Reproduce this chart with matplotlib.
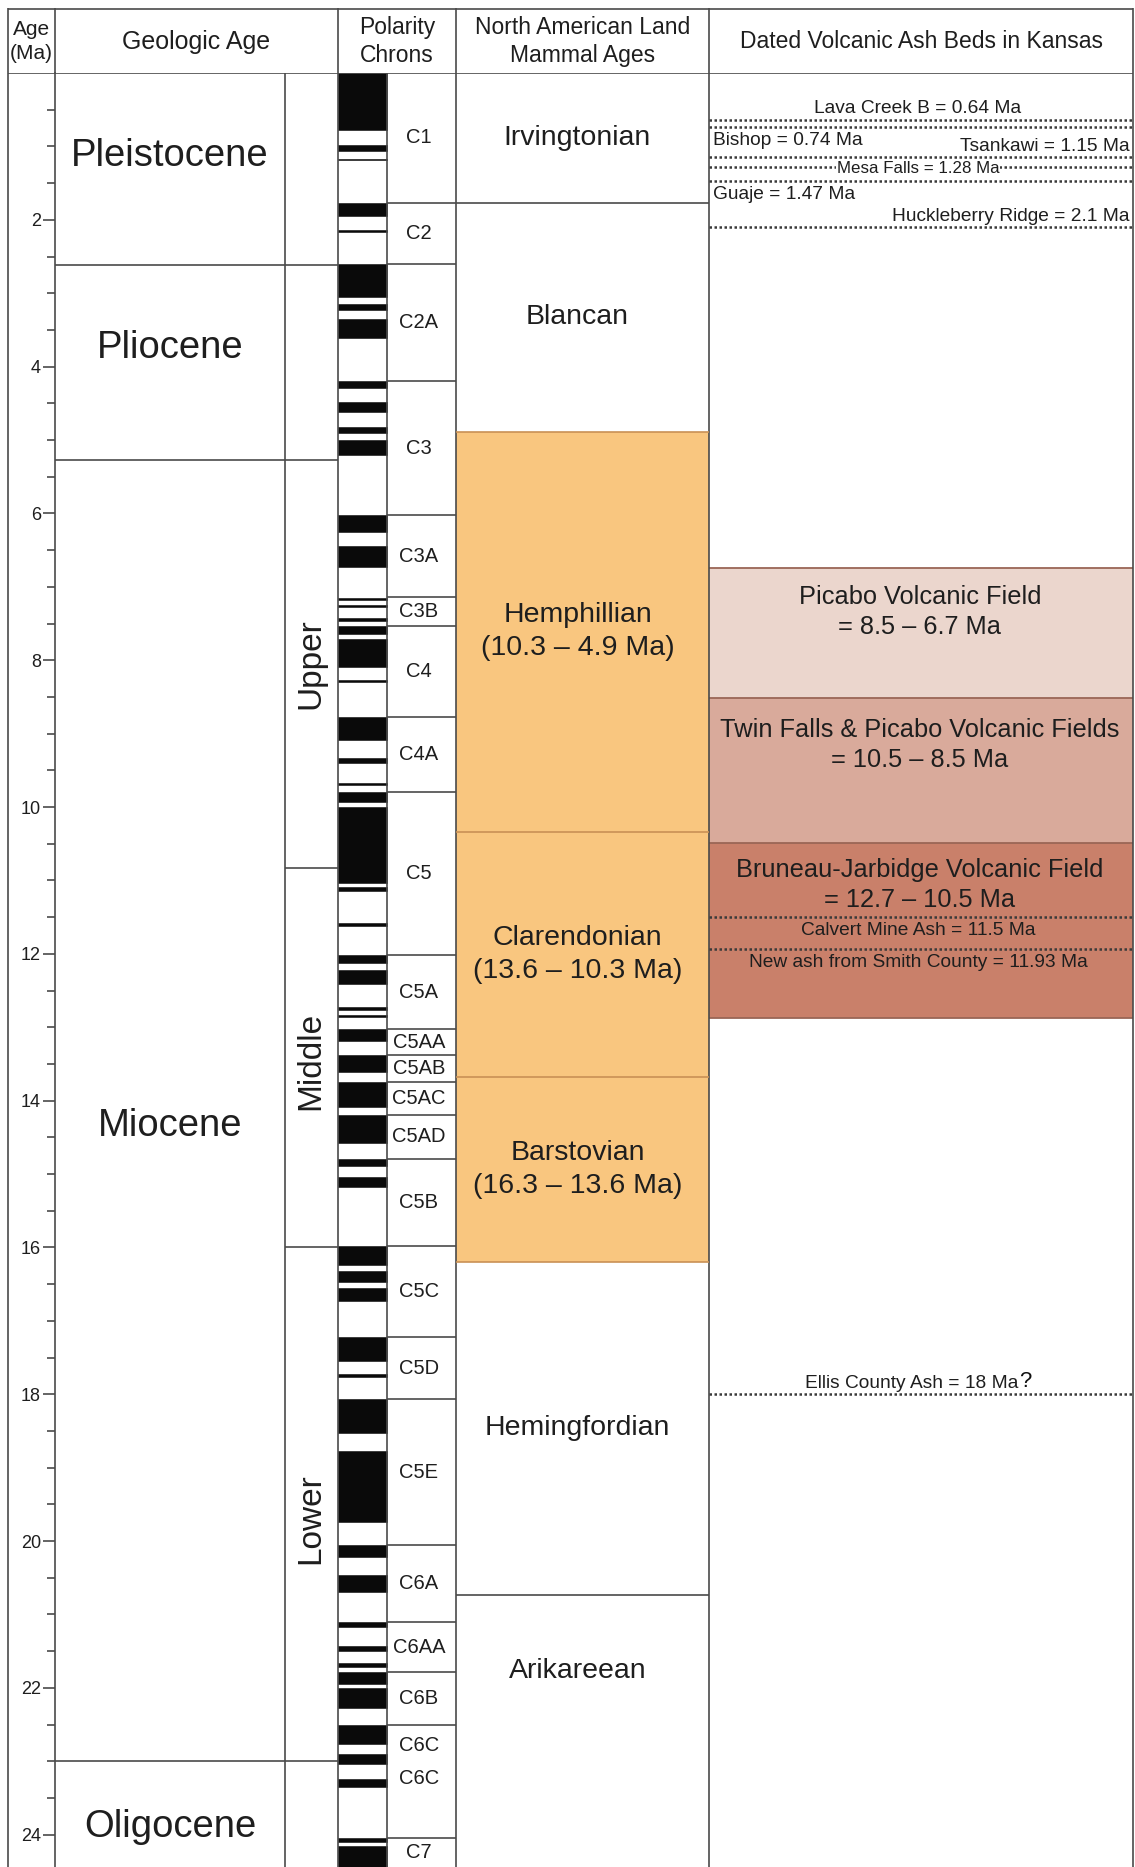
import matplotlib.pyplot as plt
import numpy as np

plt.rcParams['font.family'] = ['Liberation Sans', 'DejaVu Sans']

# ages in Ma
epochs = ["Pleistocene", "Pliocene", "Miocene", "Oligocene"]
epoch_bounds = [0.0, 2.61, 5.27, 23.0, 24.44]

subepochs = ["Upper", "Middle", "Lower"]
subepoch_bounds = [5.27, 10.83, 16.0, 23.0]

chrons = ["C1", "C2", "C2A", "C3", "C3A", "C3B", "C4", "C4A", "C5", "C5A",
          "C5AA", "C5AB", "C5AC", "C5AD", "C5B", "C5C", "C5D", "C5E", "C6A",
          "C6AA", "C6B", "C6C", "C7"]
chron_bounds = [0.0, 1.77, 2.6, 4.2, 6.02, 7.14, 7.53, 8.77, 9.79, 12.02,
                13.03, 13.38, 13.74, 14.2, 14.79, 15.98, 17.22, 18.07, 20.05,
                21.1, 21.79, 22.51, 24.05, 24.44]

# normal polarity intervals (black in the bar)
normal_top = [0.0, 0.98, 1.17, 1.77, 2.14, 2.6, 3.15, 3.35, 4.2, 4.48, 4.82, 5.0,
              6.02, 6.44, 7.15, 7.25, 7.43, 7.54, 7.71, 8.27, 8.77, 9.33, 9.67,
              9.79, 10.0, 11.09, 11.58, 12.02, 12.22, 12.72, 12.83, 13.02, 13.38,
              13.75, 14.2, 14.8, 15.04, 15.98, 16.32, 16.55, 17.22, 17.72, 18.07,
              18.77, 20.05, 20.46, 21.1, 21.43, 21.66, 21.79, 22.0, 22.51, 22.9,
              23.24, 24.05, 24.15]
normal_base = [0.77, 1.06, 1.19, 1.95, 2.16, 3.05, 3.23, 3.61, 4.29, 4.62, 4.9, 5.2,
               6.25, 6.73, 7.18, 7.28, 7.46, 7.64, 8.09, 8.3, 9.09, 9.4, 9.7,
               9.93, 11.04, 11.14, 11.62, 12.12, 12.41, 12.77, 12.86, 13.19, 13.61,
               14.09, 14.58, 14.89, 15.17, 16.24, 16.47, 16.73, 17.55, 17.77, 18.53,
               19.74, 20.22, 20.7, 21.17, 21.5, 21.71, 21.95, 22.27, 22.76, 23.04,
               23.35, 24.1, 24.44]

nalma = ["Irvingtonian", "Blancan", "Hemphillian\n(10.3 \u2013 4.9 Ma)",
         "Clarendonian\n(13.6 \u2013 10.3 Ma)", "Barstovian\n(16.3 \u2013 13.6 Ma)",
         "Hemingfordian", "Arikareean"]
nalma_bounds = [0.0, 1.77, 4.89, 10.34, 13.68, 16.2, 20.73, 24.44]
nalma_dated = [False, False, True, True, True, False, False]

fields = ["Picabo Volcanic Field\n= 8.5 \u2013 6.7 Ma",
          "Twin Falls & Picabo Volcanic Fields\n= 10.5 \u2013 8.5 Ma",
          "Bruneau-Jarbidge Volcanic Field\n= 12.7 \u2013 10.5 Ma"]
field_top = [6.74, 8.51, 10.49]
field_base = [8.51, 10.49, 12.87]

ash_names = ["Lava Creek B = 0.64 Ma", "Bishop = 0.74 Ma", "Tsankawi = 1.15 Ma",
             "Mesa Falls = 1.28 Ma", "Guaje = 1.47 Ma", "Huckleberry Ridge = 2.1 Ma",
             "Calvert Mine Ash = 11.5 Ma", "New ash from Smith County = 11.93 Ma",
             "Ellis County Ash = 18 Ma?"]
ash_ages = [0.64, 0.74, 1.15, 1.28, 1.47, 2.1, 11.5, 11.93, 18.0]

# layout (pixel columns)
X_LEFT, X_AGE, X_SUB, X_BAR, X_BAR_R, X_NAL, X_ASH, X_RIGHT = 8, 55, 285, 338, 387, 456, 709, 1133
W, H = 1135, 1867
HEAD_TOP, HEAD_BOT = 8, 73

line_c = "#4a4a4a"
text_c = "#1e1e1e"
lw = 1.2

fig = plt.figure(figsize=(W / 100, H / 100), dpi=100)
ax = fig.add_axes([0, 0, 1, 1 - HEAD_BOT / H])
ax.set_xlim(0, W)
ax.set_ylim(epoch_bounds[-1], 0)
for s in ["top", "right", "bottom"]:
    ax.spines[s].set_visible(False)
ax.spines["left"].set_position(("data", X_AGE))
ax.spines["left"].set_color(line_c)
ax.spines["left"].set_linewidth(lw)
ax.set_xticks([])
ax.set_yticks(np.arange(2, 25, 2))
ax.set_yticks([v for v in np.arange(0.5, 24.5, 0.5) if v % 2 != 0], minor=True)
ax.set_yticklabels([str(v) for v in range(2, 25, 2)])
ax.tick_params(axis="y", which="major", length=9, width=lw, color=line_c,
               labelsize=13, pad=1, labelcolor=text_c)
ax.tick_params(axis="y", which="minor", length=6, width=lw, color=line_c)

# NALMA fills
for name, t, b, d in zip(nalma, nalma_bounds[:-1], nalma_bounds[1:], nalma_dated):
    if d:
        ax.bar((X_NAL + X_ASH) / 2, b - t, bottom=t, width=X_ASH - X_NAL,
               color="#f9c67f", edgecolor="none", zorder=1)

# volcanic fields
field_colors = ["#ebd6cd", "#d9aa9b", "#c9806a"]
for t, b, c in zip(field_top, field_base, field_colors):
    ax.bar((X_ASH + X_RIGHT) / 2, b - t, bottom=t, width=X_RIGHT - X_ASH,
           color=c, edgecolor="none", zorder=1)
ax.hlines(field_top + [field_base[-1]], X_ASH, X_RIGHT, color="#9a6656", lw=1.3, zorder=2)

# polarity bar
ax.bar((X_BAR + X_BAR_R) / 2, np.array(normal_base) - np.array(normal_top),
       bottom=normal_top, width=X_BAR_R - X_BAR, color="#0a0a0a",
       edgecolor="#0a0a0a", lw=0.4, zorder=2)

# grid lines
ax.vlines([X_LEFT, X_SUB, X_BAR, X_BAR_R, X_NAL, X_ASH, X_RIGHT], 0,
          epoch_bounds[-1], color=line_c, lw=lw, zorder=3)
ax.hlines(0, X_LEFT, X_RIGHT, color=line_c, lw=lw, zorder=3)
ax.hlines(epoch_bounds[1:-1], X_AGE, X_BAR, color=line_c, lw=lw, zorder=3)
ax.hlines(subepoch_bounds[1:-1], X_SUB, X_BAR, color=line_c, lw=lw, zorder=3)
ax.hlines(chron_bounds[1:-1], X_BAR_R, X_NAL, color=line_c, lw=lw, zorder=3)
nal_line_c = ["#c99155" if (nalma_dated[i] or nalma_dated[i - 1]) else line_c
              for i in range(1, len(nalma))]
ax.hlines(nalma_bounds[1:-1], X_NAL, X_ASH, colors=nal_line_c, lw=lw, zorder=3)

# labels: epochs
epoch_label_y = [1.13, 3.75, 14.35, 23.89]
for name, y in zip(epochs, epoch_label_y):
    ax.text((X_AGE + X_SUB) / 2, y, name, ha="center", va="center",
            fontsize=27.5, color=text_c)
sub_label_y = [8.04, 13.46, 19.69]
for name, y in zip(subepochs, sub_label_y):
    ax.text((X_SUB + X_BAR) / 2 - 1, y, name, ha="center", va="center",
            rotation=90, fontsize=24, color=text_c)

# chron labels
for name, t, b in zip(chrons, chron_bounds[:-1], chron_bounds[1:]):
    if name == "C6C":
        ys = [t + 0.28, t + 0.73]
    else:
        ys = [(t + b) / 2]
    for y in ys:
        ax.text((X_BAR_R + X_NAL) / 2 - 2.5, y, name, ha="center", va="center",
                fontsize=14.5, color=text_c)

# NALMA labels
for name, t, b in zip(nalma, nalma_bounds[:-1], nalma_bounds[1:]):
    y = 21.77 if name == "Arikareean" else (t + b) / 2
    ax.text((X_NAL + X_ASH) / 2 - 5, y, name, ha="center", va="center",
            fontsize=20.5, color=text_c, linespacing=1.35)

# field labels
field_label_dy = [0.23, 0.28, 0.2]
for name, t, dy in zip(fields, field_top, field_label_dy):
    ax.text((X_ASH + X_RIGHT) / 2 - 1, t + dy, name, ha="center", va="top",
            fontsize=18.3, color=text_c, linespacing=1.33)

# ash beds
ash_place = ["above-c", "below-l", "above-r", "on-c", "below-l", "above-r",
             "below-c", "below-c", "above-c"]
ax.hlines(ash_ages, X_ASH, X_RIGHT, color="#3a3a3a", lw=1.8,
          linestyles=(0, (1, 1)), zorder=4)
for name, a, p in zip(ash_names, ash_ages, ash_place):
    side, al = p.split("-")
    dy = {"above": -0.09, "below": 0.245, "on": 0.0}[side]
    x = {"c": (X_ASH + X_RIGHT) / 2 - 3, "l": X_ASH + 4, "r": X_RIGHT - 3}[al]
    ha = {"c": "center", "l": "left", "r": "right"}[al]
    va = "center_baseline" if side == "on" else "baseline"
    kw = {}
    if side == "on":
        kw["bbox"] = dict(facecolor="white", edgecolor="none", pad=0.3)
    size = 12.2 if side == "on" else 13.8
    q = name.endswith("?")
    t = ax.text(x - (6 if q else 0), a + dy, name.rstrip("?"), ha=ha, va=va,
                fontsize=size, color=text_c, zorder=5, **kw)
    if q:
        ax.annotate("?", xy=(1, 0), xycoords=t, ha="left", va="bottom",
                    fontsize=16, color="#111111", zorder=5)

# header
hx = fig.add_axes([0, 1 - HEAD_BOT / H, 1, (HEAD_BOT - HEAD_TOP) / H])
hx.set_xlim(0, W)
hx.set_ylim(HEAD_BOT, HEAD_TOP)
hx.axis("off")
hx.vlines([X_LEFT, X_AGE, X_BAR, X_NAL, X_ASH, X_RIGHT], HEAD_TOP, HEAD_BOT,
          color=line_c, lw=lw)
hx.hlines(HEAD_TOP + 0.6, X_LEFT, X_RIGHT, color=line_c, lw=lw)
headers = ["Age\n(Ma)", "Geologic Age", "Polarity\nChrons",
           "North American Land\nMammal Ages", "Dated Volcanic Ash Beds in Kansas"]
header_size = [15, 18, 16.5, 16.5, 16.5]
edges = [X_LEFT, X_AGE, X_BAR, X_NAL, X_ASH, X_RIGHT]
for i, h in enumerate(headers):
    hx.text((edges[i] + edges[i + 1]) / 2, (HEAD_TOP + HEAD_BOT) / 2 + 1, h,
            ha="center", va="center", fontsize=header_size[i],
            color=text_c, linespacing=1.3)

fig.savefig("out.png", dpi=100)
